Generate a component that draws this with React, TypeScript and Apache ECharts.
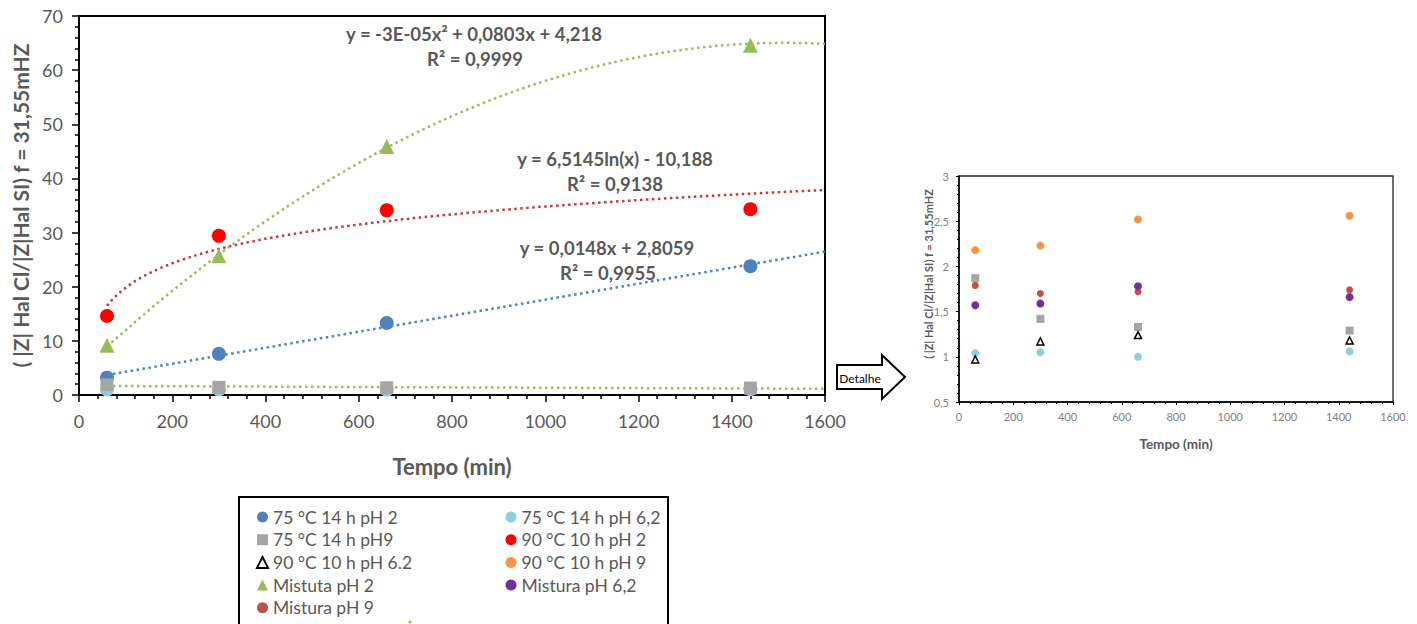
import React, { useEffect, useRef } from "react";
import * as echarts from "echarts";

// ---- data ----
const TIME_MIN = [60, 300, 660, 1440];
const T75_PH2 = [3.2, 7.6, 13.3, 23.8];
const T75_PH62 = [1.04, 1.05, 1.0, 1.06];
const T75_PH9 = [1.87, 1.42, 1.33, 1.29];
const T90_PH2 = [14.6, 29.4, 34.1, 34.3];
const T90_PH62 = [0.97, 1.17, 1.24, 1.18];
const T90_PH9 = [2.18, 2.23, 2.52, 2.56];
const MIX_PH2 = [9.2, 25.7, 45.9, 64.6];
const MIX_PH62 = [1.57, 1.59, 1.78, 1.66];
const MIX_PH9 = [1.79, 1.7, 1.72, 1.74];

// trendline coefficients (as shown in the chart's equations)
const LIN_T75_PH2 = [0.0148, 2.8059];
const LOG_T90_PH2 = [6.5145, -10.188];
const POLY_MIX_PH2 = [-2.65e-5, 0.0803, 4.218];
const LIN_LOW = [-3.39e-4, 1.681];

const X_TICKS_MAIN = [0, 1600, 200];
const Y_TICKS_MAIN = [0, 70, 10];
const Y_TICKS_DETAIL = [0.5, 3, 0.5];

const EQ_LABELS = [
  "y = -3E-05x² + 0,0803x + 4,218",
  "R² = 0,9999",
  "y = 6,5145ln(x) - 10,188",
  "R² = 0,9138",
  "y = 0,0148x + 2,8059",
  "R² = 0,9955",
];

const N_T75_PH2 = "75 °C 14 h pH 2";
const N_T75_PH62 = "75 °C 14 h pH 6,2";
const N_T75_PH9 = "75 °C 14 h pH9";
const N_T90_PH2 = "90 °C 10 h pH 2";
const N_T90_PH62 = "90 °C 10 h pH 6.2";
const N_T90_PH9 = "90 °C 10 h pH 9";
const N_MIX_PH2 = "Mistuta pH 2";
const N_MIX_PH62 = "Mistura pH 6,2";
const N_MIX_PH9 = "Mistura pH 9";

const Y_NAME = "( |Z| Hal Cl/|Z|Hal SI) f = 31,55mHZ";

const C_BLUE = "#4F81BD";
const C_LBLUE = "#92CDDC";
const C_GRAY = "#A5A5A5";
const C_RED = "#FF0000";
const C_ORANGE = "#F79646";
const C_GREEN = "#9BBB59";
const C_PURPLE = "#7030A0";
const C_DRED = "#C0504D";
const TXT = "#595959";
const FONT = "Lato";

const pts = (ys: number[]) => TIME_MIN.map((x, i) => [x, ys[i]]);

function trend(fn: (x: number) => number, from: number, to: number, step: number) {
  const out: number[][] = [];
  for (let x = from; x <= to + 1e-9; x += step) out.push([x, fn(x)]);
  return out;
}

export default function App() {
  const ref = useRef<HTMLDivElement>(null);
  useEffect(() => {
    if (!ref.current) return;
    const chart = echarts.init(ref.current, null, { renderer: "svg" });
    const dotted = (color: string) => ({
      color,
      width: 2.5,
      type: [2.5, 3.5] as any,
    });
    const trendSeries = (name: string, data: number[][], color: string) => ({
      name,
      type: "line",
      xAxisIndex: 0,
      yAxisIndex: 0,
      data,
      showSymbol: false,
      symbol: "none",
      silent: true,
      z: 2,
      lineStyle: dotted(color),
    });
    const sc = (
      name: string,
      ys: number[],
      axis: number,
      symbol: string,
      size: number,
      color: string,
      z = 3,
      extra: any = {}
    ) => ({
      name,
      type: "scatter",
      xAxisIndex: axis,
      yAxisIndex: axis,
      data: pts(ys),
      symbol,
      symbolSize: size,
      z,
      itemStyle: { color, opacity: 1, ...extra },
    });
    const legendText = { fontFamily: FONT, fontSize: 17.5, color: TXT, lineHeight: 17 };
    const eqStyle = (text: string, x: number, y: number) => ({
      type: "text",
      x,
      y,
      style: {
        text,
        fill: TXT,
        font: `bold 18.5px ${FONT}`,
        textAlign: "center",
        textVerticalAlign: "middle",
      },
    });
    const plain = (v: number) => String(v);

    chart.setOption({
      animation: false,
      backgroundColor: "#ffffff",
      grid: [
        {
          left: 79,
          top: 16,
          width: 746,
          height: 379,
          show: true,
          borderColor: "#000",
          borderWidth: 2,
          containLabel: false,
          outerBoundsMode: "none",
        },
        {
          left: 959,
          top: 176,
          width: 434,
          height: 226,
          show: true,
          borderColor: "#222",
          borderWidth: 1.3,
          containLabel: false,
          outerBoundsMode: "none",
        },
      ],
      xAxis: [
        {
          gridIndex: 0,
          type: "value",
          min: X_TICKS_MAIN[0],
          max: X_TICKS_MAIN[1],
          interval: X_TICKS_MAIN[2],
          name: "Tempo (min)",
          nameLocation: "middle",
          nameGap: 60,
          nameTextStyle: { fontFamily: FONT, fontSize: 22, fontWeight: "bold", color: TXT },
          axisLine: { lineStyle: { color: "#000", width: 2 } },
          axisTick: { show: true, length: 7, lineStyle: { color: "#000", width: 1.5 } },
          minorTick: { show: true, splitNumber: 5, length: 4, lineStyle: { color: "#000", width: 1.5 } },
          splitLine: { show: false },
          axisLabel: { fontFamily: FONT, fontSize: 18, color: TXT, margin: 17, formatter: plain },
        },
        {
          gridIndex: 1,
          type: "value",
          min: X_TICKS_MAIN[0],
          max: X_TICKS_MAIN[1],
          interval: X_TICKS_MAIN[2],
          name: "Tempo (min)",
          nameLocation: "middle",
          nameGap: 35,
          nameTextStyle: { fontFamily: FONT, fontSize: 13.5, fontWeight: "bold", color: TXT },
          axisLine: { lineStyle: { color: "#000", width: 1.5 } },
          axisTick: { show: true, length: 3, lineStyle: { color: "#000", width: 1 } },
          minorTick: { show: true, splitNumber: 5, length: 2, lineStyle: { color: "#000", width: 1 } },
          splitLine: { show: false },
          axisLabel: { fontFamily: FONT, fontSize: 11, color: "#808080", margin: 9, formatter: plain },
        },
      ],
      yAxis: [
        {
          gridIndex: 0,
          type: "value",
          min: Y_TICKS_MAIN[0],
          max: Y_TICKS_MAIN[1],
          interval: Y_TICKS_MAIN[2],
          name: Y_NAME,
          nameLocation: "middle",
          nameGap: 48,
          nameTextStyle: { fontFamily: FONT, fontSize: 21, fontWeight: "bold", color: TXT },
          axisLine: { show: true, lineStyle: { color: "#000", width: 2 } },
          axisTick: { show: true, length: 7, lineStyle: { color: "#000", width: 1.5 } },
          minorTick: { show: true, splitNumber: 5, length: 4, lineStyle: { color: "#000", width: 1.5 } },
          splitLine: { show: false },
          axisLabel: { fontFamily: FONT, fontSize: 18, color: TXT, margin: 16 },
        },
        {
          gridIndex: 1,
          type: "value",
          min: Y_TICKS_DETAIL[0],
          max: Y_TICKS_DETAIL[1],
          interval: Y_TICKS_DETAIL[2],
          axisLine: { show: true, lineStyle: { color: "#000", width: 1.5 } },
          axisTick: { show: true, length: 3, lineStyle: { color: "#000", width: 1 } },
          minorTick: { show: true, splitNumber: 5, length: 2, lineStyle: { color: "#000", width: 1 } },
          splitLine: { show: false },
          axisLabel: {
            fontFamily: FONT,
            fontSize: 11,
            color: "#808080",
            margin: 10,
            formatter: (v: number) => String(v).replace(".", ","),
          },
        },
      ],
      legend: [
        {
          left: 256,
          top: 508,
          height: 130,
          padding: 0,
          orient: "vertical",
          itemWidth: 11,
          itemHeight: 11,
          itemGap: 4.7,
          selectedMode: false,
          textStyle: legendText,
          data: [
            { name: N_T75_PH2, icon: "circle", itemStyle: { color: C_BLUE } },
            { name: N_T75_PH9, icon: "rect", itemStyle: { color: C_GRAY } },
            {
              name: N_T90_PH62,
              icon: "triangle",
              itemStyle: { color: "#fff", borderColor: "#000", borderWidth: 2 },
            },
            { name: N_MIX_PH2, icon: "triangle", itemStyle: { color: C_GREEN } },
            { name: N_MIX_PH9, icon: "circle", itemStyle: { color: C_DRED } },
          ],
        },
        {
          left: 505.5,
          top: 508,
          height: 130,
          padding: 0,
          orient: "vertical",
          itemWidth: 11,
          itemHeight: 11,
          itemGap: 4.7,
          selectedMode: false,
          textStyle: legendText,
          data: [
            { name: N_T75_PH62, icon: "circle", itemStyle: { color: C_LBLUE } },
            { name: N_T90_PH2, icon: "circle", itemStyle: { color: C_RED } },
            { name: N_T90_PH9, icon: "circle", itemStyle: { color: C_ORANGE } },
            { name: N_MIX_PH62, icon: "circle", itemStyle: { color: C_PURPLE } },
          ],
        },
      ],
      series: [
        // trendlines (main chart)
        trendSeries(
          "Linear (75 °C 14 h pH 2)",
          trend((x) => LIN_T75_PH2[0] * x + LIN_T75_PH2[1], 60, 1600, 20),
          C_BLUE
        ),
        trendSeries(
          "Log. (90 °C 10 h pH 2)",
          trend((x) => LOG_T90_PH2[0] * Math.log(x) + LOG_T90_PH2[1], 60, 1600, 10),
          "#C8383A"
        ),
        trendSeries(
          "Polin. (Mistuta pH 2)",
          trend((x) => POLY_MIX_PH2[0] * x * x + POLY_MIX_PH2[1] * x + POLY_MIX_PH2[2], 60, 1600, 10),
          C_GREEN
        ),
        trendSeries(
          "Linear (baixo)",
          trend((x) => LIN_LOW[0] * x + LIN_LOW[1], 60, 1600, 20),
          C_GREEN
        ),
        // main chart points
        sc(N_T75_PH62, T75_PH62, 0, "circle", 14, C_LBLUE, 3),
        sc(N_T75_PH2, T75_PH2, 0, "circle", 14, C_BLUE, 3),
        sc(N_T90_PH2, T90_PH2, 0, "circle", 14, C_RED, 3),
        sc(N_MIX_PH2, MIX_PH2, 0, "triangle", 15, C_GREEN, 3),
        sc(N_T75_PH9, T75_PH9, 0, "rect", 13, C_GRAY, 4),
        // detail chart points
        sc(N_T75_PH62, T75_PH62, 1, "circle", 8, C_LBLUE, 3),
        sc(N_T75_PH9, T75_PH9, 1, "rect", 8, C_GRAY, 3),
        sc(N_T90_PH62, T90_PH62, 1, "triangle", 7, "#fff", 3, { borderColor: "#000", borderWidth: 1.5 }),
        sc(N_T90_PH9, T90_PH9, 1, "circle", 8, C_ORANGE, 3),
        sc(N_MIX_PH9, MIX_PH9, 1, "circle", 7, C_DRED, 3),
        sc(N_MIX_PH62, MIX_PH62, 1, "circle", 8, C_PURPLE, 3),
      ],
      graphic: [
        eqStyle(EQ_LABELS[0], 474, 34),
        eqStyle(EQ_LABELS[1], 475, 59),
        eqStyle(EQ_LABELS[2], 615, 159),
        eqStyle(EQ_LABELS[3], 615, 184),
        eqStyle(EQ_LABELS[4], 607, 248),
        eqStyle(EQ_LABELS[5], 608, 273),
        {
          type: "text",
          x: 928,
          y: 274,
          rotation: Math.PI / 2,
          style: {
            text: Y_NAME,
            fill: TXT,
            font: `bold 11px ${FONT}`,
            textAlign: "center",
            textVerticalAlign: "middle",
          },
        },
        {
          type: "polygon",
          shape: {
            points: [
              [837, 365],
              [882, 365],
              [882, 355],
              [905, 377],
              [882, 399],
              [882, 389],
              [837, 389],
            ],
          },
          style: { fill: "#fff", stroke: "#000", lineWidth: 2 },
        },
        {
          type: "text",
          x: 860,
          y: 378,
          style: {
            text: "Detalhe",
            fill: "#000",
            font: `12px ${FONT}`,
            textAlign: "center",
            textVerticalAlign: "middle",
          },
        },
        {
          type: "rect",
          shape: { x: 239, y: 497, width: 429, height: 140 },
          style: { fill: "none", stroke: "#000", lineWidth: 2 },
          silent: true,
        },
        {
          type: "circle",
          shape: { cx: 410, cy: 622, r: 1.5 },
          style: { fill: C_GREEN },
        },
      ],
    });
    return () => chart.dispose();
  }, []);
  return (
    <div
      ref={ref}
      style={{ position: "fixed", left: 0, top: 0, width: 1417, height: 624, background: "#fff" }}
    />
  );
}
